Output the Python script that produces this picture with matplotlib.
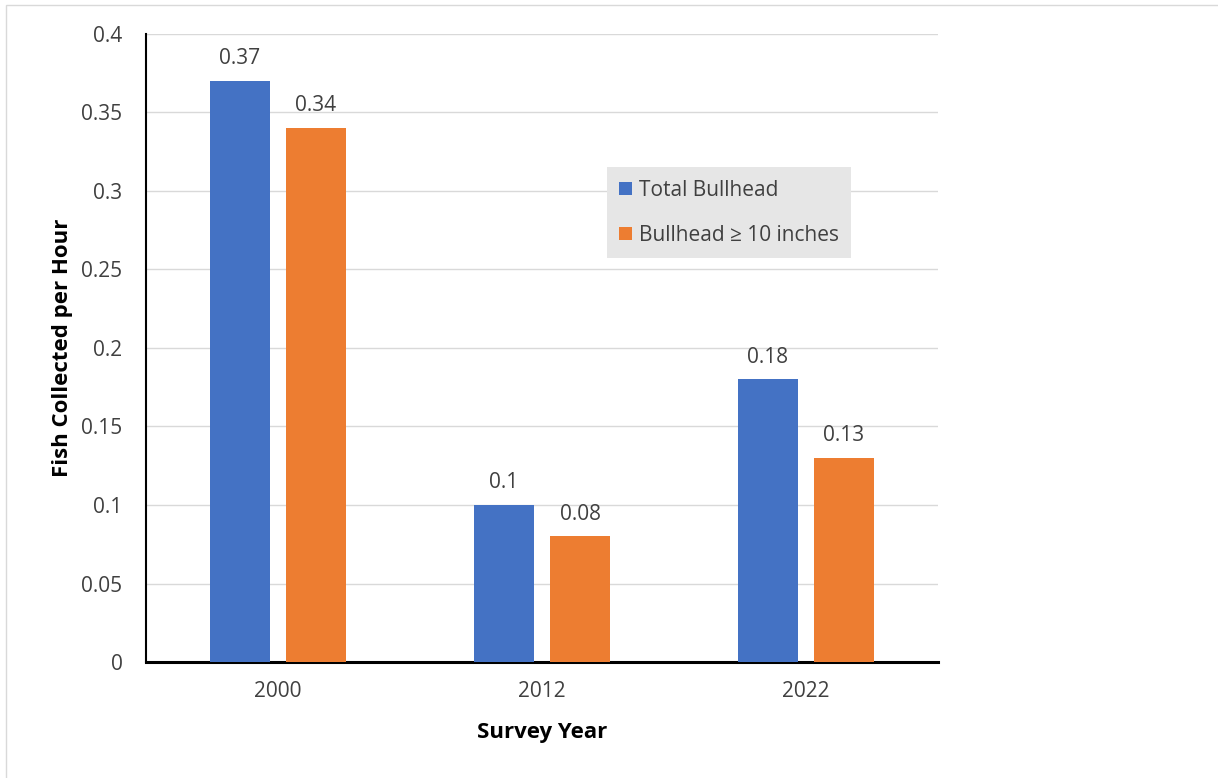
import matplotlib
import matplotlib.pyplot as plt
import numpy as np
from matplotlib.patches import Rectangle

matplotlib.use("Agg")

years = ["2000", "2012", "2022"]
total_bullhead = [0.37, 0.10, 0.18]
bullhead_10in = [0.34, 0.08, 0.13]
total_labels = ["0.37", "0.1", "0.18"]
big_labels = ["0.34", "0.08", "0.13"]
y_ticks = [0, 0.05, 0.1, 0.15, 0.2, 0.25, 0.3, 0.35, 0.4]
y_tick_labels = ["0", "0.05", "0.1", "0.15", "0.2", "0.25", "0.3", "0.35", "0.4"]

BLUE = "#4472C4"
ORANGE = "#ED7D31"
TEXT = "#404040"

plt.rcParams["font.family"] = ["Open Sans", "DejaVu Sans"]

fig = plt.figure(figsize=(12.18, 7.78), dpi=100)
ax = fig.add_axes([0.1199, 0.1491, 0.6502, 0.8072])

# outer chart border
fig.patches.append(Rectangle((6 / 1218, -0.05), 1.2, 1.05 - 5 / 778,
                             transform=fig.transFigure, fill=False,
                             edgecolor="#d9d9d9", linewidth=1.0))

x = np.arange(len(years))
w = 0.227
off = 0.144
b1 = ax.bar(x - off, total_bullhead, w, color=BLUE, label="Total Bullhead", zorder=3)
b2 = ax.bar(x + off, bullhead_10in, w, color=ORANGE, label="Bullhead ≥ 10 inches", zorder=3)

for bars, labels in [(b1, total_labels), (b2, big_labels)]:
    for rect, lab in zip(bars, labels):
        ax.text(rect.get_x() + rect.get_width() / 2, rect.get_height() + 0.0075, lab,
                ha="center", va="bottom", fontsize=15, color=TEXT)

ax.set_xlim(-0.5, 2.5)
ax.set_ylim(0, 0.4)
ax.set_xticks(x)
ax.set_xticklabels(years, fontsize=15, color=TEXT)
ax.set_yticks(y_ticks)
ax.set_yticklabels(y_tick_labels, fontsize=15, color=TEXT)
ax.tick_params(length=0)
ax.tick_params(axis="x", pad=14)
ax.tick_params(axis="y", pad=17)

for yv in y_ticks[1:]:
    ax.axhline(yv, color="#d9d9d9", linewidth=1.0, zorder=1)

ax.spines["top"].set_visible(False)
ax.spines["right"].set_visible(False)
ax.spines["left"].set_linewidth(1.5)
ax.spines["bottom"].set_linewidth(2.2)
ax.spines["left"].set_color("black")
ax.spines["bottom"].set_color("black")

ax.set_xlabel("Survey Year", fontsize=16, fontweight="bold", labelpad=14)
ax.set_ylabel("Fish Collected per Hour", fontsize=16, fontweight="bold", labelpad=6)

leg = ax.legend(loc="upper left", bbox_to_anchor=(0.582, 0.788), frameon=True,
                fancybox=False, facecolor="#e6e6e6", edgecolor="none", framealpha=1,
                fontsize=15, handlelength=0.62, handleheight=0.62, handletextpad=0.3,
                labelspacing=1.15, borderpad=0.6, borderaxespad=0)
for t in leg.get_texts():
    t.set_color(TEXT)

fig.savefig("out.png", dpi=100)
plt.close(fig)
